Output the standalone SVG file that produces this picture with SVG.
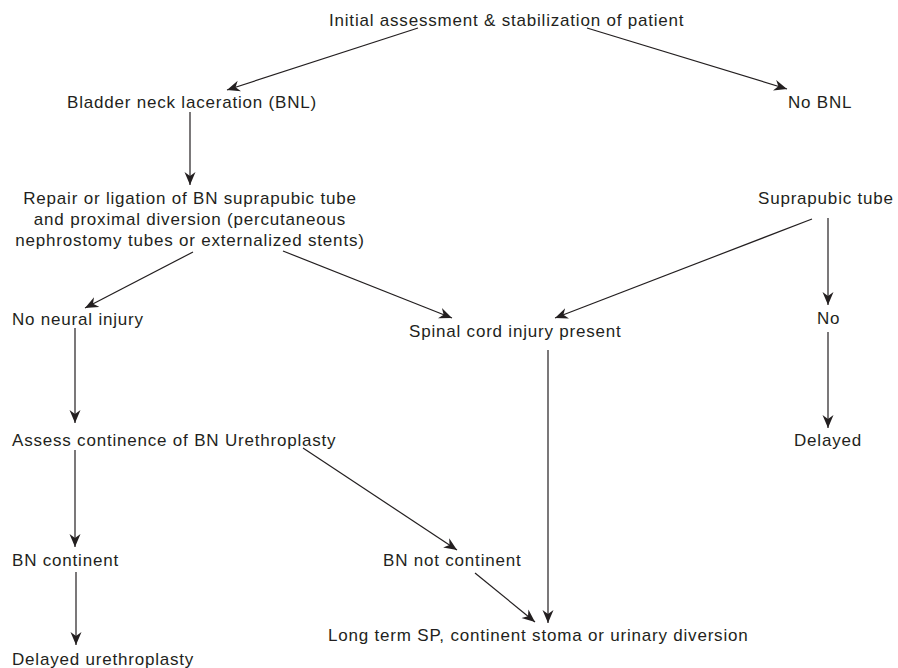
<svg xmlns="http://www.w3.org/2000/svg" width="898" height="668" viewBox="0 0 898 668">
<style>
text{font-family:"Liberation Sans",Arial,sans-serif;font-size:17px;letter-spacing:0.8px;fill:#231f20}
.c{text-anchor:middle}
.e{stroke:#231f20;stroke-width:1.2;fill:none;marker-end:url(#ah)}
</style>
<defs>
<marker id="ah" markerUnits="userSpaceOnUse" markerWidth="15" markerHeight="13" viewBox="-13 -6.5 15 13" refX="0" refY="0" orient="auto">
<path d="M0,0 L-13,-5.5 L-9,0 L-13,5.5 Z" fill="#231f20"/>
</marker>
</defs>
<rect width="898" height="668" fill="#fff"/>
<g id="connectors">
<line class="e" x1="418" y1="28" x2="227" y2="90"/>
<line class="e" x1="587" y1="28" x2="787" y2="89"/>
<line class="e" x1="190" y1="112" x2="190" y2="185"/>
<line class="e" x1="193" y1="252" x2="85" y2="308"/>
<line class="e" x1="283" y1="251" x2="452" y2="318"/>
<line class="e" x1="812" y1="219" x2="555" y2="318"/>
<line class="e" x1="828" y1="218" x2="828" y2="305"/>
<line class="e" x1="828" y1="332" x2="828" y2="428"/>
<line class="e" x1="75" y1="328" x2="75" y2="423"/>
<line class="e" x1="548" y1="350" x2="548" y2="623"/>
<line class="e" x1="75" y1="450" x2="75" y2="547"/>
<line class="e" x1="303" y1="448" x2="457" y2="550"/>
<line class="e" x1="76" y1="572" x2="76" y2="645"/>
<line class="e" x1="475" y1="573" x2="535" y2="622"/>
</g>
<g id="n-initial"><text x="329" y="26">Initial assessment &amp; stabilization of patient</text></g>
<g id="n-bnl"><text x="67" y="108">Bladder neck laceration (BNL)</text></g>
<g id="n-nobnl"><text x="788" y="108">No BNL</text></g>
<g id="n-repair">
<text class="c" x="190" y="204">Repair or ligation of BN suprapubic tube</text>
<text class="c" x="190" y="225">and proximal diversion (percutaneous</text>
<text class="c" x="190" y="246">nephrostomy tubes or externalized stents)</text>
</g>
<g id="n-sp"><text x="758" y="204">Suprapubic tube</text></g>
<g id="n-noneural"><text x="12" y="325">No neural injury</text></g>
<g id="n-spinal"><text x="409" y="337">Spinal cord injury present</text></g>
<g id="n-no"><text x="817" y="324">No</text></g>
<g id="n-assess"><text x="12" y="446">Assess continence of BN Urethroplasty</text></g>
<g id="n-delayed"><text x="794" y="446">Delayed</text></g>
<g id="n-bncont"><text x="12" y="566">BN continent</text></g>
<g id="n-bnnot"><text x="383" y="566">BN not continent</text></g>
<g id="n-long"><text x="328" y="641">Long term SP, continent stoma or urinary diversion</text></g>
<g id="n-delure"><text x="12" y="665">Delayed urethroplasty</text></g>
</svg>
